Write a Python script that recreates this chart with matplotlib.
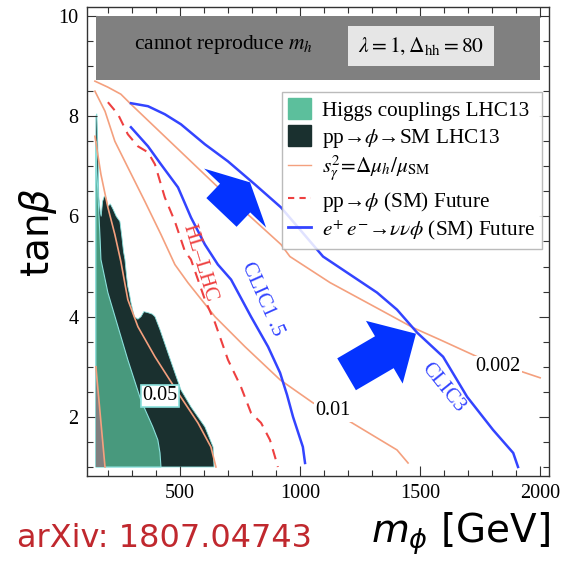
import matplotlib
matplotlib.use('Agg')
import matplotlib.pyplot as plt
from matplotlib.patches import Patch
from matplotlib.lines import Line2D
from matplotlib.ticker import MultipleLocator

plt.rcParams['font.family'] = ['Liberation Serif', 'DejaVu Serif']
plt.rcParams['mathtext.fontset'] = 'stix'

# ---------------- data ----------------
# region that cannot reproduce m_h
band_x = [150, 2000]
band_y = [8.72, 10.0]

# gray excluded sliver
gray_x = [150, 150, 188]
gray_y = [1.0, 3.0, 1.0]

# pp -> phi -> SM LHC13 (dark region)
dark_x = [150, 150, 154, 157, 160, 162, 168, 172, 178, 185, 192, 200, 210, 221, 235, 250,
          258, 265, 271, 278, 283, 290, 296, 310, 325, 338, 350, 367, 385, 396, 417, 450,
          479, 504, 546, 604, 638, 642]
dark_y = [1.0, 8.0, 8.05, 7.6, 7.0, 6.4, 6.1, 6.0, 6.3, 6.4, 6.38, 6.2, 6.25, 6.15, 6.0, 5.9,
          5.6, 5.3, 5.14, 4.8, 4.6, 4.45, 4.28, 4.0, 3.95, 4.0, 4.1, 4.08, 4.05, 4.0, 3.74, 3.28,
          2.88, 2.54, 2.2, 1.8, 1.4, 1.0]

# Higgs couplings LHC13 (green region)
green_x = [150, 150, 153, 158, 163, 168, 171, 200, 242, 283, 337, 387, 408, 417, 421]
green_y = [1.0, 7.5, 7.0, 6.5, 6.0, 5.5, 5.14, 4.48, 3.8, 3.14, 2.34, 1.8, 1.54, 1.28, 1.0]

# s_gamma^2 contours
s002_x = [146, 200, 254, 296, 646, 783, 921, 958, 1125, 1333, 1471, 1583, 1738, 2000]
s002_y = [8.7, 8.58, 8.44, 8.24, 6.64, 6.04, 5.44, 5.2, 4.68, 4.14, 3.78, 3.54, 3.2, 2.78]
s001_x = [146, 188, 229, 283, 354, 421, 479, 533, 646, 771, 917, 1054, 1196, 1404, 1450]
s001_y = [8.5, 8.1, 7.5, 6.98, 6.3, 5.64, 5.04, 4.68, 4.0, 3.4, 2.74, 2.28, 1.94, 1.34, 1.08]
s005_x = [146, 171, 200, 229, 254, 283, 325, 396, 492, 575, 629, 650]
s005_y = [7.6, 6.84, 6.18, 5.64, 5.1, 4.34, 3.8, 3.2, 2.48, 1.88, 1.4, 1.0]
s01_x = [150, 188]
s01_y = [3.0, 1.0]

# pp -> phi (SM) future, HL-LHC
hl_x = [200, 242, 283, 325, 367, 396, 437, 479, 521, 546, 604, 646, 700, 754, 796, 838, 875, 896, 908]
hl_y = [8.28, 8.04, 7.64, 7.4, 7.28, 7.04, 6.38, 5.9, 5.3, 5.14, 4.34, 3.88, 3.14, 2.6, 2.08, 1.88,
        1.54, 1.2, 1.0]

# e+ e- -> nu nu phi (SM) future
clic15_x = [296, 367, 421, 492, 546, 604, 658, 713, 796, 867, 917, 946, 971, 1012, 1021]
clic15_y = [7.78, 7.4, 7.04, 6.58, 5.98, 5.44, 5.04, 4.74, 4.0, 3.4, 2.88, 2.44, 2.0, 1.4, 1.08]
clic3_x = [296, 367, 437, 504, 604, 700, 812, 921, 1096, 1221, 1321, 1404, 1488, 1596, 1696,
           1804, 1888, 1908]
clic3_y = [8.26, 8.2, 8.04, 7.84, 7.44, 7.1, 6.64, 6.18, 5.2, 4.8, 4.48, 4.14, 3.68, 3.2, 2.4,
           1.74, 1.28, 1.0]

# arrows (tail, tip)
arrow1 = [(673, 6.08), (792, 6.68)]
arrow2 = [(1194, 2.85), (1483, 3.66)]

x_ticks = [500, 1000, 1500, 2000]
y_ticks = [2, 4, 6, 8, 10]

# ---------------- colours ----------------
c_gray = '#808080'
c_dark = '#1a302f'
c_green = '#48997d'
c_green_leg = '#5cbf9c'
c_orange = '#f4a07e'
c_red = '#ee4040'
c_blue = '#3344ff'
c_arrow = '#0433ff'
c_edge = '#8ae0dc'

# ---------------- figure ----------------
fig = plt.figure(figsize=(5.63, 5.66), dpi=100)
ax = fig.add_axes([87 / 563, 1 - 476 / 566, (549 - 87) / 563, (476 - 7) / 566])

ax.fill_between(band_x, band_y[0], band_y[1], color=c_gray, lw=0, zorder=6)
ax.fill(dark_x, dark_y, facecolor=c_dark, edgecolor=c_edge, lw=0.6, zorder=1)
ax.fill(green_x, green_y, facecolor=c_green, edgecolor=c_edge, lw=0.8, zorder=2)
ax.fill(gray_x, gray_y, facecolor=c_gray, edgecolor='none', zorder=2.5)

for xs, ys in [(s002_x, s002_y), (s001_x, s001_y), (s005_x, s005_y), (s01_x, s01_y)]:
    ax.plot(xs, ys, color=c_orange, lw=1.2, zorder=3)
ax.plot(hl_x, hl_y, color=c_red, lw=1.5, ls=(0, (5, 3.5)), zorder=3)
ax.plot(clic15_x, clic15_y, color=c_blue, lw=1.8, zorder=3)
ax.plot(clic3_x, clic3_y, color=c_blue, lw=1.8, zorder=3)

ax.annotate('', xy=arrow1[1], xytext=arrow1[0],
            arrowprops=dict(arrowstyle='simple,head_length=15.6,head_width=61.6,tail_width=30',
                            mutation_scale=1, color=c_arrow, lw=0, shrinkA=0, shrinkB=0),
            zorder=5)
ax.annotate('', xy=arrow2[1], xytext=arrow2[0],
            arrowprops=dict(arrowstyle='simple,head_length=26.4,head_width=52.3,tail_width=26.6',
                            mutation_scale=1, color=c_arrow, lw=0, shrinkA=0, shrinkB=0),
            zorder=5)

# contour labels
ax.text(1825, 3.0, '0.002', fontsize=14.5, ha='center', va='center', zorder=4,
        bbox=dict(facecolor='white', edgecolor='none', pad=1))
ax.text(1137, 2.12, '0.01', fontsize=14.5, ha='center', va='center', zorder=4,
        bbox=dict(facecolor='white', edgecolor='none', pad=1))
ax.text(417, 2.42, '0.05', fontsize=14.5, ha='center', va='center', zorder=4,
        bbox=dict(facecolor='white', edgecolor=c_edge, lw=1.2, pad=0.8))

ax.text(579, 5.08, 'HL\u2013LHC', fontsize=15, color=c_red, rotation=-73,
        ha='center', va='center', zorder=4)
ax.text(842, 4.34, 'CLIC1 .5', fontsize=15, color=c_blue, rotation=-66,
        ha='center', va='center', zorder=4)
ax.text(1596, 2.58, 'CLIC3', fontsize=15, color=c_blue, rotation=-51,
        ha='center', va='center', zorder=4)

ax.text(679, 9.44, r'cannot reproduce $m_h$', fontsize=15.5, ha='center', va='center', zorder=7)
ax.text(1504, 9.4, r'$\lambda = 1, \Delta_{\rm hh} = 80$', fontsize=15.5, ha='center',
        va='center', zorder=7,
        bbox=dict(facecolor='#e6e6e6', edgecolor='none', boxstyle='square,pad=0.45'))

# legend
handles = [
    Patch(facecolor=c_green_leg, edgecolor=c_green_leg),
    Patch(facecolor=c_dark, edgecolor=c_dark),
    Line2D([], [], color=c_orange, lw=1.0),
    Line2D([], [], color=c_red, lw=1.5, ls=(0, (3, 2.5))),
    Line2D([], [], color=c_blue, lw=2.0),
]
labels = [
    'Higgs couplings LHC13',
    'pp\u2192$\\phi$\u2192SM LHC13',
    r'$s_\gamma^2\!=\!\Delta\mu_h/\mu_{\rm SM}$',
    'pp\u2192$\\phi$ (SM) Future',
    '$e^{+}\\,e^{-}$\u2192$\\nu\\nu\\phi$ (SM) Future',
]
leg = ax.legend(handles, labels, loc='upper left', bbox_to_anchor=(0.422, 0.819),
                fontsize=15.3, frameon=True, fancybox=False, edgecolor='#b0b0b0',
                framealpha=0.85, handlelength=1.05, handleheight=1.1, labelspacing=0.22,
                borderpad=0.3, handletextpad=0.55, borderaxespad=0)
leg.set_zorder(8)
leg.get_frame().set_linewidth(1.0)

# axes
ax.set_xlim(113, 2037)
ax.set_ylim(0.82, 10.18)
ax.set_xticks(x_ticks)
ax.set_yticks(y_ticks)
ax.xaxis.set_minor_locator(MultipleLocator(100))
ax.yaxis.set_minor_locator(MultipleLocator(0.5))
ax.tick_params(which='both', direction='in', top=True, right=True, labelsize=14.5,
               color='#333333', width=0.8)
ax.tick_params(which='major', length=7, pad=6)
ax.tick_params(which='minor', length=4)
for s in ax.spines.values():
    s.set_color('#333333')
    s.set_linewidth(1.0)

# outer labels
fig.text(38 / 563, 1 - 232 / 566, r'tan$\beta$', fontsize=28, rotation=90, ha='center',
         va='center', family='DejaVu Sans', math_fontfamily='dejavusans')
fig.text(550 / 563, 1 - 543 / 566, r'$m_\phi$ [GeV]', fontsize=28, ha='right',
         va='baseline', family='DejaVu Sans', math_fontfamily='dejavusans')
fig.text(17 / 563, 1 - 547 / 566, 'arXiv: 1807.04743', fontsize=23, color='#c0282e',
         ha='left', va='baseline', family='DejaVu Sans')

fig.savefig('out.png', dpi=100)
